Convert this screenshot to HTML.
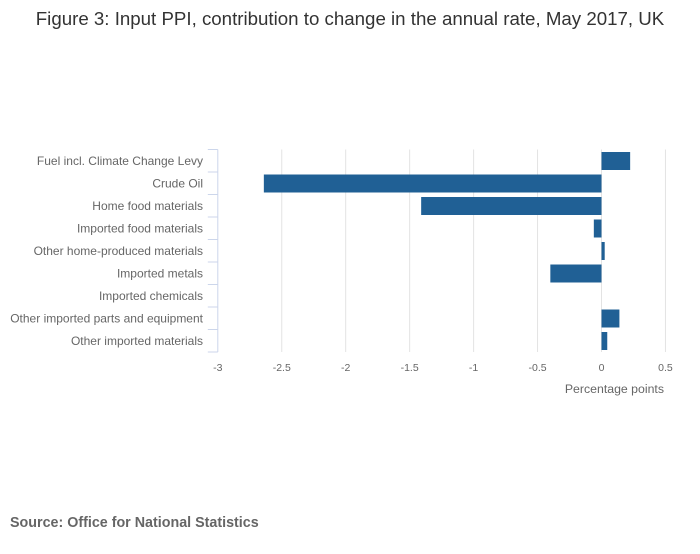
<!DOCTYPE html>
<html><head><meta charset="utf-8"><style>
body{margin:0;background:#fff;font-family:"Liberation Sans",sans-serif;}
svg text{font-family:"Liberation Sans",sans-serif;}
</style></head><body>
<svg id="chart" width="700" height="549">
<text x="350" y="25" text-anchor="middle" font-size="18.7" fill="#333">Figure 3: Input PPI, contribution to change in the annual rate, May 2017, UK</text>
<g id="grid"></g><g id="bars"></g><g id="axes"></g>
<text x="664" y="393" text-anchor="end" font-size="12.3" fill="#666">Percentage points</text>
<text x="10" y="527" font-size="14.3" font-weight="bold" fill="#666">Source: Office for National Statistics</text>
</svg>
<script>
const categories=["Fuel incl. Climate Change Levy","Crude Oil","Home food materials","Imported food materials","Other home-produced materials","Imported metals","Imported chemicals","Other imported parts and equipment","Other imported materials"];
const values=[0.224,-2.64,-1.41,-0.06,0.025,-0.40,0,0.14,0.045];
const ticks=[-3,-2.5,-2,-1.5,-1,-0.5,0,0.5];
const NS="http://www.w3.org/2000/svg";
const x0=217.8,unit=127.9,plotTop=149.5,band=22.5;
function X(v){return x0+(v+3)*unit;}
function Y(i){return plotTop+i*band;}
function mk(t,a,p){const e=document.createElementNS(NS,t);for(const k in a)e.setAttribute(k,a[k]);p.appendChild(e);return e;}
const grid=document.getElementById('grid'),bars=document.getElementById('bars'),axes=document.getElementById('axes');
ticks.forEach(t=>{
 if(t>-3){const l=mk('line',{x1:X(t),x2:X(t),y1:plotTop,y2:plotTop+9*band,stroke:'#e3e3e3','stroke-width':1},grid);
 
 }
 const tx=mk('text',{x:X(t),y:371,'text-anchor':'middle','font-size':10.5,fill:'#666'},axes);
 tx.textContent=String(t);
 
 
});
const ax=mk('line',{x1:x0,x2:x0,y1:plotTop,y2:plotTop+9*band,stroke:'#ccd6eb','stroke-width':1},axes);


for(let i=0;i<=9;i++){const tk=mk('line',{x1:x0-10,x2:x0,y1:Y(i),y2:Y(i),stroke:'#ccd6eb','stroke-width':1},axes);
 
 }
categories.forEach((c,i)=>{
 const t=mk('text',{x:203,y:Y(i)+band/2+4,'text-anchor':'end','font-size':12,fill:'#666'},axes);
 t.textContent=c;
 
 
 const v=values[i];const a=X(Math.min(0,v)),b=X(Math.max(0,v));
 const r=mk('rect',{x:a,y:Y(i)+2.5,width:Math.max(0,b-a),height:18,fill:'#206095'},bars);
 
 
});
</script>
</body></html>
